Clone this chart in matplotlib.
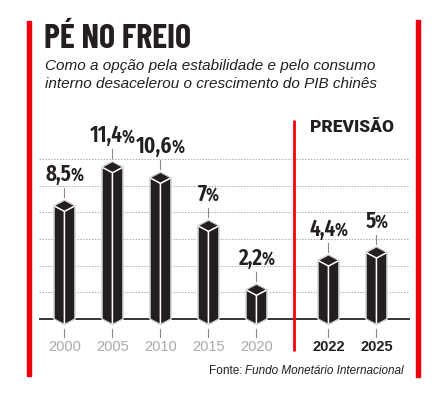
import matplotlib
matplotlib.use("Agg")
import matplotlib.pyplot as plt
import numpy as np
from matplotlib.patches import Polygon, Rectangle
from matplotlib.transforms import offset_copy

# dados
anos = ['2000', '2005', '2010', '2015', '2020', '2022', '2025']
pib = [8.5, 11.4, 10.6, 7, 2.2, 4.4, 5]
rotulos = ['8,5', '11,4', '10,6', '7', '2,2', '4,4', '5']
previsao = [False, False, False, False, False, True, True]
grade = [2, 4, 6, 8, 10, 12]

COND = ['Barlow Condensed', 'Roboto Condensed', 'DejaVu Sans']
XCOND = ['Fira Sans Extra Condensed', 'Barlow Condensed', 'DejaVu Sans']
SANS = ['Liberation Sans', 'DejaVu Sans']
HEAVY = ['Roboto', 'DejaVu Sans']
ESCURO = '#231f20'
VERMELHO = '#f4000b'
CINZA = '#a7a9ac'

W, H = 445, 394
fig = plt.figure(figsize=(W / 100, H / 100), dpi=100)
fig.patch.set_facecolor('white')


def fx(px):
    return px / W


def fy(py):
    return 1 - py / H


# eixo do grafico (pixels 39..410 x 110..360)
ax = fig.add_axes([fx(39), fy(360), fx(410) - fx(39), fy(110) - fy(360)])
ax.set_xlim(-0.531, 7.198)
ax.set_ylim(-3.075, 15.68)
ax.axis('off')

xpos = np.arange(len(anos)) + 0.5 * np.array(previsao)

for g in grade:
    ax.axhline(g, color='#ababab', lw=0.7, ls=(0, (1.5, 1.5)), zorder=1)
ax.axhline(0, color='black', lw=1.1, zorder=2)

# barras em prisma
meia = 0.22
d = 0.42
for x, v in zip(xpos, pib):
    esq = Polygon([(x - meia, 0), (x - meia, v), (x, v - d), (x, -d)], closed=True,
                  facecolor=ESCURO, edgecolor='white', lw=1.0, zorder=3)
    dir_ = Polygon([(x + meia, 0), (x + meia, v), (x, v - d), (x, -d)], closed=True,
                   facecolor=ESCURO, edgecolor='white', lw=1.0, zorder=3)
    topo = Polygon([(x - meia, v), (x, v + d), (x + meia, v), (x, v - d)], closed=True,
                   facecolor=ESCURO, edgecolor='white', lw=1.0, zorder=4)
    for p in (esq, dir_, topo):
        ax.add_patch(p)
    contorno = Polygon([(x - meia, 0), (x - meia, v), (x, v + d), (x + meia, v),
                        (x + meia, 0), (x, -d)], closed=True, fill=False,
                       edgecolor='#b0b0b0', lw=0.5, zorder=5)
    ax.add_patch(contorno)
    # traço entre rótulo e barra
    ax.plot([x, x], [v + 0.65, v + 1.33], color='#8a8a8a', lw=0.8, zorder=3)
    # traço abaixo do eixo
    ax.plot([x, x], [-0.75, -1.35], color='#8a8a8a', lw=0.8, zorder=3)

# linha divisória de previsão
ax.plot([4.78, 4.78], [-2.4, 14.93], color=VERMELHO, lw=2, zorder=6,
        solid_capstyle='butt', clip_on=False)

fig.canvas.draw()
r = fig.canvas.get_renderer()

# rótulos de valor
for x, v, lab in zip(xpos, pib, rotulos):
    t1 = ax.text(x, v + 1.85, lab, ha='left', va='baseline', fontsize=16.5,
                 family=XCOND, weight=600, color=ESCURO, zorder=7)
    t2 = ax.text(x, v + 1.85, '%', ha='left', va='baseline', fontsize=13,
                 family=XCOND, weight=600, color=ESCURO, zorder=7)
    w1 = t1.get_window_extent(r).width
    w2 = t2.get_window_extent(r).width
    tot = w1 + w2 - 1
    t1.set_transform(offset_copy(ax.transData, fig, x=-tot / 2, y=0, units='dots'))
    t2.set_transform(offset_copy(ax.transData, fig, x=-tot / 2 + w1 - 1, y=0, units='dots'))

# anos
for x, a, prev in zip(xpos, anos, previsao):
    ax.text(x, -2.1, a, ha='center', va='center', fontsize=10.5, family=SANS,
            weight='bold' if prev else 'normal', color=ESCURO if prev else CINZA)

ax.text(5.98, 14.4, 'PREVISÃO', ha='center', va='center', fontsize=12.5,
        family=HEAVY, weight=900, color=ESCURO)

# barras vermelhas laterais
fig.patches.append(Rectangle((fx(27), fy(376)), fx(31) - fx(27), fy(21) - fy(376),
                             transform=fig.transFigure, color=VERMELHO, zorder=1))
fig.patches.append(Rectangle((fx(416), fy(377)), fx(420) - fx(416), fy(20) - fy(377),
                             transform=fig.transFigure, color=VERMELHO, zorder=1))

# títulos
fig.text(fx(44), fy(48.5), 'PÉ NO FREIO', ha='left', va='baseline', fontsize=24.5,
         family=COND, weight='bold', color=ESCURO)
fig.text(fx(45), fy(70), 'Como a opção pela estabilidade e pelo consumo',
         ha='left', va='baseline', fontsize=11, family=SANS, style='italic', color=ESCURO)
fig.text(fx(45), fy(87.5), 'interno desacelerou o crescimento do PIB chinês',
         ha='left', va='baseline', fontsize=11, family=SANS, style='italic', color=ESCURO)

# fonte
f2 = fig.text(fx(404), fy(374.5), 'Fundo Monetário Internacional', ha='right',
              va='baseline', fontsize=8.5, family=SANS, style='italic', color=ESCURO)
bb = f2.get_window_extent(r)
fig.text(bb.x0 / W, fy(374.5), 'Fonte: ', ha='right', va='baseline', fontsize=8.5,
         family=SANS, color=ESCURO)

fig.savefig('out.png', dpi=100)
